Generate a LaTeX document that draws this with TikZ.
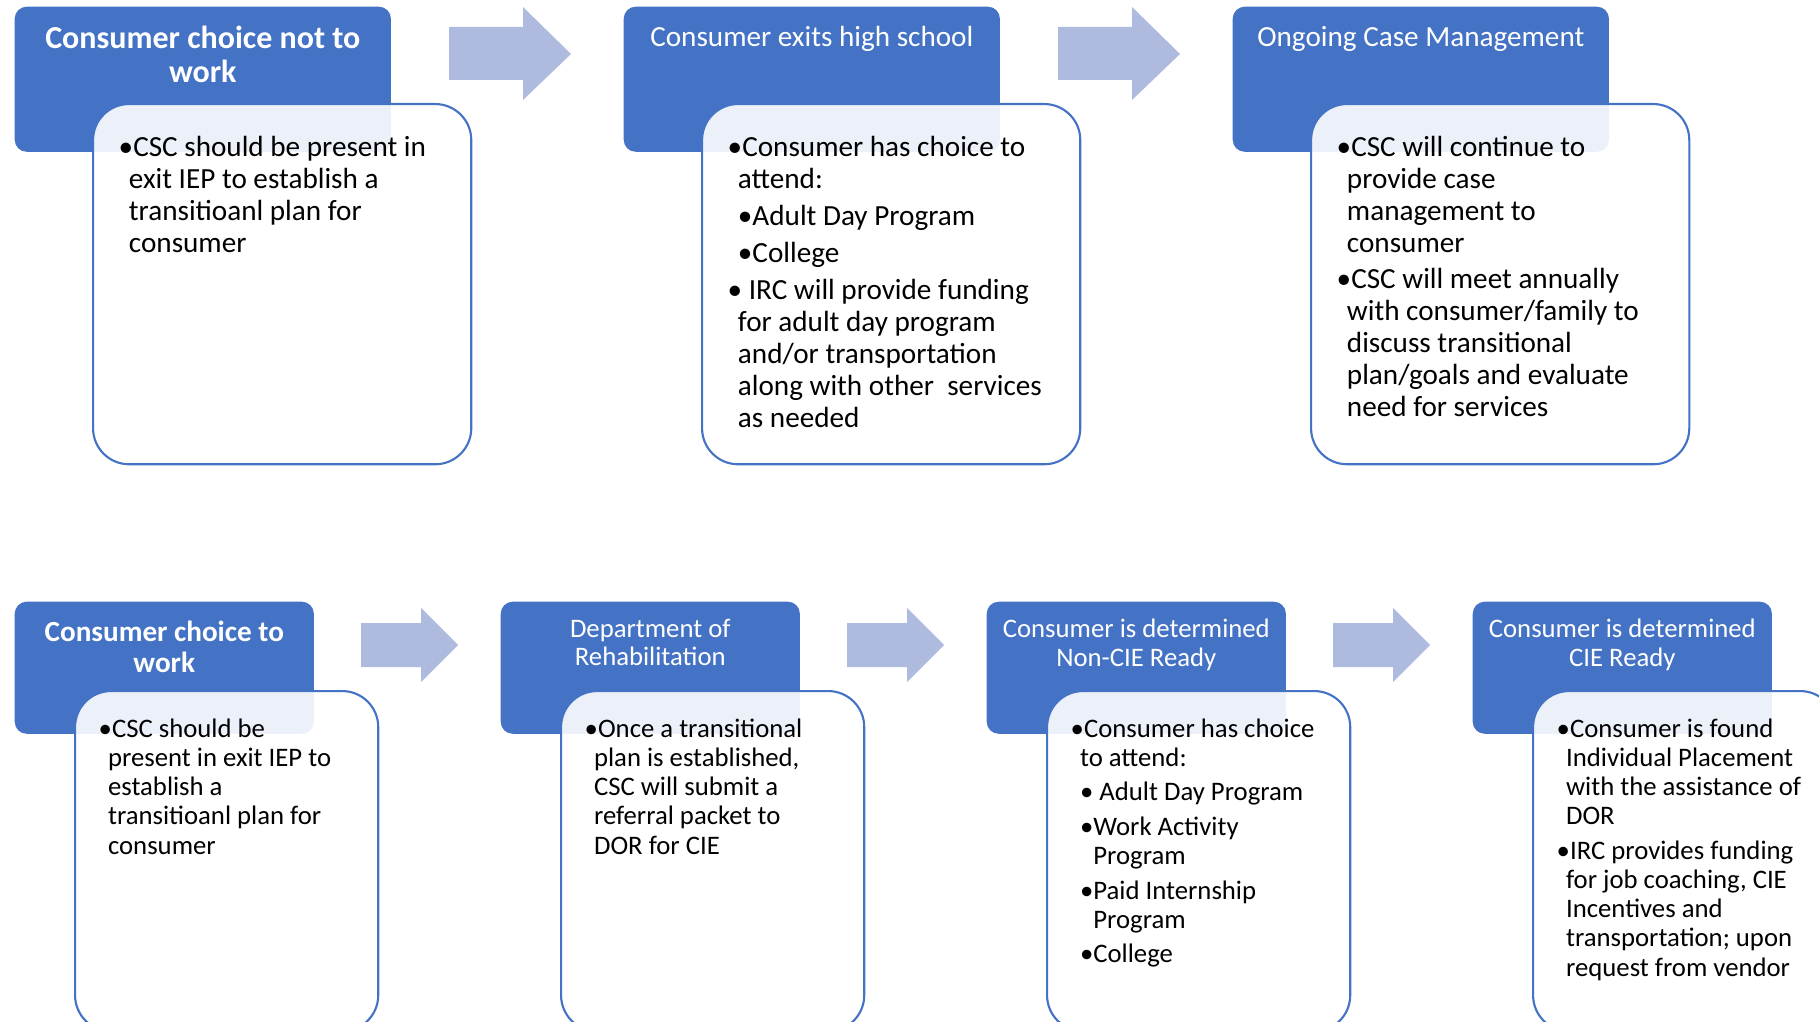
\documentclass[tikz,border=0pt]{standalone}
\usepackage{fontspec}
\setmainfont{Carlito}
\usetikzlibrary{positioning}
\definecolor{hdblue}{RGB}{68,114,196}
\definecolor{arrowblue}{RGB}{174,187,222}
\newcommand{\ind}{\hspace*{0.35em}}
\newcommand{\subind}{\hspace*{0.35em}\hphantom{•}}
\tikzset{
  headbox/.style={fill=hdblue, rounded corners=0.12cm, anchor=north west, inner sep=0pt},
  bodybox/.style={draw=hdblue, line width=0.6pt, fill=white, fill opacity=0.9, rounded corners=0.36cm, anchor=north west, inner sep=0pt},
  tophead/.style={headbox, minimum width=3.76cm, minimum height=1.45cm},
  topbody/.style={bodybox, minimum width=3.78cm, minimum height=3.60cm},
  lowhead/.style={headbox, minimum width=2.99cm, minimum height=1.32cm},
  lowbody/.style={bodybox, minimum width=3.03cm, minimum height=3.40cm},
  headtext/.style={text=white, align=center, inner sep=0pt},
  bigtitle/.style={headtext, font=\bfseries\fontsize{9.1}{9.7}\selectfont},
  toptitle/.style={headtext, font=\fontsize{8.3}{9.1}\selectfont},
  lowtitle/.style={headtext, font=\fontsize{7.6}{8.2}\selectfont},
  lowbold/.style={headtext, font=\bfseries\fontsize{8.3}{9.0}\selectfont},
  topitems/.style={align=left, inner sep=0pt, font=\fontsize{8.3}{9.1}\selectfont},
  lowitems/.style={align=left, inner sep=0pt, font=\fontsize{7.6}{8.3}\selectfont},
  blockarrow/.style={fill=arrowblue}
}

\begin{document}
\begin{tikzpicture}[x=0.01cm,y=-0.01cm]
    \useasboundingbox (0,0) rectangle (1819,1022);
    \clip (0,0) rectangle (1819,1022);

    \foreach \ax in {449,1058}
        \fill[blockarrow] (\ax,27) -- (\ax+74,27) -- (\ax+74,7) -- (\ax+122,54) -- (\ax+74,100) -- (\ax+74,80) -- (\ax,80) -- cycle;
    \foreach \ax in {361,847,1333}
        \fill[blockarrow] (\ax,623) -- (\ax+60,623) -- (\ax+60,608) -- (\ax+97,645) -- (\ax+60,682) -- (\ax+60,667) -- (\ax,667) -- cycle;

    \node[tophead] (h1) at (14,6) {};
    \node[tophead] (h2) at (623,6) {};
    \node[tophead] (h3) at (1232,6) {};
    \node[topbody] (b1) at (92,103) {};
    \node[topbody] (b2) at (701,103) {};
    \node[topbody] (b3) at (1310,103) {};

    \node[bigtitle, below=0.195cm of h1.north] (t1) {Consumer choice not to\\work};
    \node[toptitle, below=0.20cm of h2.north] (t2) {Consumer exits high school};
    \node[toptitle, below=0.20cm of h3.north] (t3) {Ongoing Case Management};

    \node[topitems, below right=0.33cm and 0.26cm of b1.north west] (i1) {•CSC should be present in\\
        \ind exit IEP to establish a\\
        \ind transitioanl plan for\\
        \ind consumer};
    \node[topitems, below right=0.33cm and 0.26cm of b2.north west] (i2) {•Consumer has choice to\\
        \ind attend:\\[1.4pt]
        \ind •Adult Day Program\\[1.4pt]
        \ind •College\\[1.4pt]
        • IRC will provide funding\\
        \ind for adult day program\\
        \ind and/or transportation\\
        \ind along with other\ \ services\\
        \ind as needed};
    \node[topitems, below right=0.33cm and 0.26cm of b3.north west] (i3) {•CSC will continue to\\
        \ind provide case\\
        \ind management to\\
        \ind consumer\\[1.1pt]
        •CSC will meet annually\\
        \ind with consumer/family to\\
        \ind discuss transitional\\
        \ind plan/goals and evaluate\\
        \ind need for services};

    \node[lowhead] (h4) at (14,601) {};
    \node[lowhead] (h5) at (500,601) {};
    \node[lowhead] (h6) at (986,601) {};
    \node[lowhead] (h7) at (1472,601) {};
    \node[lowbody] (b4) at (74,690) {};
    \node[lowbody] (b5) at (560,690) {};
    \node[lowbody] (b6) at (1046,690) {};
    \node[lowbody] (b7) at (1532,690) {};

    \node[lowbold, below=0.19cm of h4.north] (t4) {Consumer choice to\\work};
    \node[lowtitle, below=0.17cm of h5.north] (t5) {Department of\\Rehabilitation};
    \node[lowtitle, below=0.17cm of h6.north] (t6) {Consumer is determined\\Non-CIE Ready};
    \node[lowtitle, below=0.17cm of h7.north] (t7) {Consumer is determined\\CIE Ready};

    \node[lowitems, below right=0.28cm and 0.24cm of b4.north west] (i4) {•CSC should be\\
        \ind present in exit IEP to\\
        \ind establish a\\
        \ind transitioanl plan for\\
        \ind consumer};
    \node[lowitems, below right=0.28cm and 0.24cm of b5.north west] (i5) {•Once a transitional\\
        \ind plan is established,\\
        \ind CSC will submit a\\
        \ind referral packet to\\
        \ind DOR for CIE};
    \node[lowitems, below right=0.28cm and 0.24cm of b6.north west] (i6) {•Consumer has choice\\
        \ind to attend:\\[1.5pt]
        \ind • Adult Day Program\\[1.5pt]
        \ind •Work Activity\\
        \subind Program\\[1.5pt]
        \ind •Paid Internship\\
        \subind Program\\[1.5pt]
        \ind •College};
    \node[lowitems, below right=0.28cm and 0.24cm of b7.north west] (i7) {•Consumer is found\\
        \ind Individual Placement\\
        \ind with the assistance of\\
        \ind DOR\\[1.5pt]
        •IRC provides funding\\
        \ind for job coaching, CIE\\
        \ind Incentives and\\
        \ind transportation; upon\\
        \ind request from vendor};
\end{tikzpicture}
\end{document}
